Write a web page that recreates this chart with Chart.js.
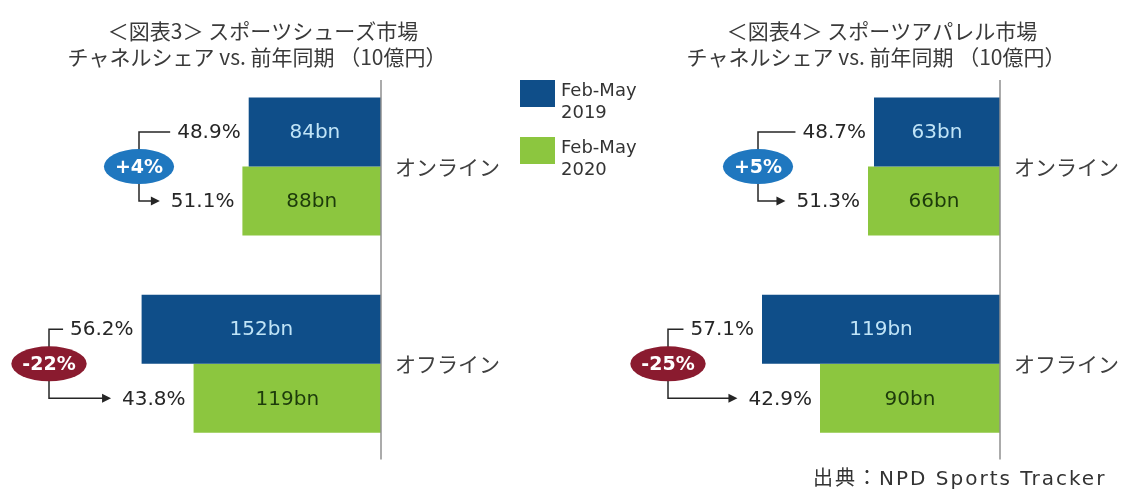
<!DOCTYPE html>
<html lang="ja">
<head>
<meta charset="utf-8">
<title>スポーツシューズ・アパレル市場 チャネルシェア</title>
<script src="https://cdn.jsdelivr.net/npm/chart.js@4.4.1/dist/chart.umd.min.js"></script>
<style>
  html, body { margin: 0; padding: 0; background: #fff; }
  #wrap { position: relative; width: 1126px; height: 489px; }
  #wrap canvas { position: absolute; left: 0; top: 0; }
</style>
</head>
<body>
<div id="wrap">
  <canvas id="shoes" width="1126" height="489"></canvas>
  <canvas id="apparel" width="1126" height="489"></canvas>
</div>
<script>
// data (10億円 = bn)
const channels = ['オンライン', 'オフライン'];
const seriesLabels = ['Feb-May 2019', 'Feb-May 2020'];

const shoes2019 = [84, 152];
const shoes2020 = [88, 119];
const shoesShare2019 = [48.9, 56.2];
const shoesShare2020 = [51.1, 43.8];
const shoesChange = [4, -22];

const apparel2019 = [63, 119];
const apparel2020 = [66, 90];
const apparelShare2019 = [48.7, 57.1];
const apparelShare2020 = [51.3, 42.9];
const apparelChange = [5, -25];

const shoesTitle = ['＜図表3＞ スポーツシューズ市場', 'チャネルシェア vs. 前年同期 （10億円）'];
const apparelTitle = ['＜図表4＞ スポーツアパレル市場', 'チャネルシェア vs. 前年同期 （10億円）'];
const sourceNote = '出典：NPD Sports Tracker';

// look
const BLUE = '#0f4e89';
const GREEN = '#8cc63f';
const NUM_FONT = '"DejaVu Sans", "Noto Sans CJK JP", sans-serif';
const JP_FONT = '"Noto Sans CJK JP", "DejaVu Sans", sans-serif';
const BRACKET_OFFSET = [242, 332]; // distance of the bracket from the axis, per channel

const notesPlugin = {
  id: 'notes',
  afterDatasetsDraw(chart, args, opts) {
    const ctx = chart.ctx;
    const xs = chart.scales.x;
    const ys = chart.scales.y;
    const area = chart.chartArea;
    const axisX = xs.getPixelForValue(0);
    ctx.save();

    // vertical zero line
    ctx.strokeStyle = '#8f8f8f';
    ctx.lineWidth = 1.5;
    ctx.beginPath();
    ctx.moveTo(axisX, area.top + 12);
    ctx.lineTo(axisX, area.bottom - 3);
    ctx.stroke();

    const m0 = chart.getDatasetMeta(0);
    const m1 = chart.getDatasetMeta(1);
    chart.data.labels.forEach((lab, i) => {
      const b0 = m0.data[i];
      const b1 = m1.data[i];

      // values inside the bars
      ctx.textBaseline = 'middle';
      ctx.textAlign = 'center';
      ctx.font = '20px ' + NUM_FONT;
      ctx.fillStyle = '#c0e4f7';
      ctx.fillText(chart.data.datasets[0].data[i] + 'bn', (b0.x + b0.base) / 2, b0.y + 1);
      ctx.fillStyle = '#1d3b0b';
      ctx.fillText(chart.data.datasets[1].data[i] + 'bn', (b1.x + b1.base) / 2, b1.y + 1);

      // share labels left of the bars
      ctx.textAlign = 'right';
      ctx.fillStyle = '#262626';
      const t0 = opts.share2019[i].toFixed(1) + '%';
      const t1 = opts.share2020[i].toFixed(1) + '%';
      const r0 = Math.min(b0.x, b0.base) - 8;
      const r1 = Math.min(b1.x, b1.base) - 8;
      ctx.fillText(t0, r0, b0.y + 1);
      ctx.fillText(t1, r1, b1.y + 1);
      const s0 = r0 - ctx.measureText(t0).width;
      const s1 = r1 - ctx.measureText(t1).width;

      // bracket with arrow
      const bx = axisX - BRACKET_OFFSET[i];
      ctx.strokeStyle = '#262626';
      ctx.lineWidth = 1.5;
      ctx.beginPath();
      ctx.moveTo(s0 - 7, b0.y);
      ctx.lineTo(bx, b0.y);
      ctx.lineTo(bx, b1.y);
      ctx.lineTo(s1 - 18, b1.y);
      ctx.stroke();
      ctx.fillStyle = '#262626';
      ctx.beginPath();
      ctx.moveTo(s1 - 11, b1.y);
      ctx.lineTo(s1 - 20, b1.y - 4.5);
      ctx.lineTo(s1 - 20, b1.y + 4.5);
      ctx.closePath();
      ctx.fill();

      // change badge
      const cy = ys.getPixelForValue(i);
      const ch = opts.change[i];
      const txt = (ch > 0 ? '+' : '') + ch + '%';
      ctx.font = 'bold 19px ' + NUM_FONT;
      const w = ctx.measureText(txt).width;
      ctx.fillStyle = ch > 0 ? '#1f77bf' : '#8a1b2f';
      ctx.beginPath();
      ctx.ellipse(bx, cy, w / 2 + 11, 17.5, 0, 0, Math.PI * 2);
      ctx.fill();
      ctx.fillStyle = '#fff';
      ctx.textAlign = 'center';
      ctx.fillText(txt, bx, cy + 1);
    });

    // title
    ctx.fillStyle = '#3a3a3a';
    ctx.textAlign = 'center';
    ctx.textBaseline = 'middle';
    ctx.font = '21px ' + JP_FONT;
    opts.title.forEach((line, k) => {
      ctx.fillText(line, axisX - 124 + (k === 0 ? 6 : 0), 31 + k * 26);
    });

    // legend (only on one of the charts)
    if (opts.legend) {
      chart.data.datasets.forEach((ds, k) => {
        const top = 80 + k * 57;
        ctx.fillStyle = ds.backgroundColor;
        ctx.fillRect(520, top, 35, 27);
        ctx.fillStyle = '#333';
        ctx.textAlign = 'left';
        ctx.font = '18px ' + NUM_FONT;
        const parts = ds.label.split(' ');
        ctx.fillText(parts[0], 561, top + 11);
        ctx.fillText(parts[1], 561, top + 33);
      });
    }

    if (opts.source) {
      ctx.fillStyle = '#333';
      ctx.textAlign = 'left';
      ctx.font = '20px ' + NUM_FONT;
      ctx.letterSpacing = '2px';
      ctx.fillText(opts.source, 813, 480);
      ctx.letterSpacing = '0px';
    }
    ctx.restore();
  }
};

function makeChart(id, v2019, v2020, notes, pad, axisWidth) {
  return new Chart(document.getElementById(id), {
    type: 'bar',
    data: {
      labels: channels,
      datasets: [
        { label: seriesLabels[0], data: v2019, backgroundColor: BLUE },
        { label: seriesLabels[1], data: v2020, backgroundColor: GREEN },
      ],
    },
    options: {
      indexAxis: 'y',
      responsive: false,
      animation: false,
      devicePixelRatio: 1,
      layout: { padding: pad },
      datasets: { bar: { categoryPercentage: 0.7, barPercentage: 1.0 } },
      scales: {
        x: { type: 'linear', reverse: true, min: 0, max: 160, display: false },
        y: {
          position: 'right',
          grid: { display: false, drawTicks: false },
          border: { display: false },
          ticks: { color: '#404040', padding: 14, font: { family: JP_FONT, size: 21 } },
          afterFit(scale) { scale.width = axisWidth; },
        },
      },
      plugins: {
        legend: { display: false },
        tooltip: { enabled: false },
        notes: notes,
      },
    },
    plugins: [notesPlugin],
  });
}

makeChart('shoes', shoes2019, shoes2020, {
  title: shoesTitle,
  share2019: shoesShare2019,
  share2020: shoesShare2020,
  change: shoesChange,
  legend: true,
}, { left: 129, right: 615, top: 68, bottom: 21 }, 130);

makeChart('apparel', apparel2019, apparel2020, {
  title: apparelTitle,
  share2019: apparelShare2019,
  share2020: apparelShare2020,
  change: apparelChange,
  source: sourceNote,
}, { left: 680, right: 0, top: 68, bottom: 21 }, 126);
</script>
</body>
</html>
